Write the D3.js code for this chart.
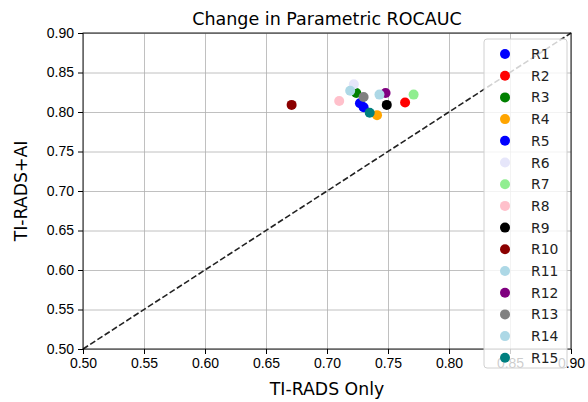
<!DOCTYPE html>
<html>
<head>
<meta charset="utf-8">
<script src="https://cdn.jsdelivr.net/npm/d3@7"></script>
<style>
  body { margin: 0; background: #fff; }
  svg { font-family: "DejaVu Sans", sans-serif; }
</style>
</head>
<body>
<div id="chart"></div>
<script>
const readers = ['R1', 'R2', 'R3', 'R4', 'R5', 'R6', 'R7', 'R8', 'R9', 'R10', 'R11', 'R12', 'R13', 'R14', 'R15'];
const tiradsOnly = [0.727, 0.764, 0.724, 0.741, 0.730, 0.722, 0.771, 0.710, 0.749, 0.671, 0.719, 0.748, 0.730, 0.743, 0.735];
const tiradsAI =   [0.811, 0.812, 0.824, 0.796, 0.806, 0.835, 0.822, 0.814, 0.809, 0.809, 0.827, 0.824, 0.819, 0.822, 0.799];
const pointColors = ['blue', 'red', 'green', 'orange', 'blue', 'lavender', 'lightgreen', 'pink', 'black',
    'darkred', 'lightblue', 'purple', 'gray', 'lightblue', 'teal'];
const ticks = [0.50, 0.55, 0.60, 0.65, 0.70, 0.75, 0.80, 0.85, 0.90];

const W = 588, H = 402;
const margin = { top: 33, right: 17, bottom: 53, left: 83 };
const width = W - margin.left - margin.right;
const height = H - margin.top - margin.bottom;

const svg = d3.select('#chart').append('svg')
    .attr('width', W)
    .attr('height', H);

const g = svg.append('g')
    .attr('transform', `translate(${margin.left},${margin.top})`);

const x = d3.scaleLinear().domain([0.5, 0.9]).range([0, width]);
const y = d3.scaleLinear().domain([0.5, 0.9]).range([height, 0]);

// gridlines
g.append('g')
    .attr('transform', `translate(0,${height})`)
    .call(d3.axisBottom(x).tickValues(ticks).tickSize(-height).tickFormat(''))
    .call(a => a.select('.domain').remove())
    .selectAll('.tick line')
    .attr('stroke', '#b0b0b0')
    .attr('stroke-width', 0.8);

g.append('g')
    .call(d3.axisLeft(y).tickValues(ticks).tickSize(-width).tickFormat(''))
    .call(a => a.select('.domain').remove())
    .selectAll('.tick line')
    .attr('stroke', '#b0b0b0')
    .attr('stroke-width', 0.8);

// points
readers.forEach((r, i) => {
    g.append('circle')
        .attr('cx', x(tiradsOnly[i]))
        .attr('cy', y(tiradsAI[i]))
        .attr('r', 5)
        .attr('fill', pointColors[i]);
});

// diagonal reference line
g.append('line')
    .attr('x1', x(0.5)).attr('y1', y(0.5))
    .attr('x2', x(0.9)).attr('y2', y(0.9))
    .attr('stroke', '#222')
    .attr('stroke-width', 1.6)
    .attr('stroke-dasharray', '6,2.6');

// spines
g.append('rect')
    .attr('width', width)
    .attr('height', height)
    .attr('fill', 'none')
    .attr('stroke', '#000')
    .attr('stroke-width', 0.9);

// axes
const xAxis = g.append('g')
    .attr('transform', `translate(0,${height})`)
    .call(d3.axisBottom(x).tickValues(ticks).tickFormat(d3.format('.2f')).tickSize(5).tickPadding(4));
xAxis.select('.domain').remove();
xAxis.selectAll('text').style('font-size', '14px').attr('fill', '#000');

const yAxis = g.append('g')
    .call(d3.axisLeft(y).tickValues(ticks).tickFormat(d3.format('.2f')).tickSize(5).tickPadding(4));
yAxis.select('.domain').remove();
yAxis.selectAll('text').style('font-size', '14px').attr('fill', '#000');

// legend
const leg = g.append('g')
    .attr('transform', `translate(${484 - margin.left},${39 - margin.top})`);
leg.append('rect')
    .attr('width', 83)
    .attr('height', 329)
    .attr('rx', 3)
    .attr('fill', 'rgba(255,255,255,0.8)')
    .attr('stroke', '#d0d0d0')
    .attr('stroke-width', 1);
readers.forEach((r, i) => {
    const row = leg.append('g').attr('transform', `translate(0,${15 + i * 21.7})`);
    row.append('circle').attr('cx', 21).attr('cy', 0).attr('r', 5).attr('fill', pointColors[i]);
    row.append('text')
        .attr('x', 47)
        .attr('y', 0)
        .attr('dy', '0.36em')
        .style('font-size', '13.9px')
        .attr('fill', '#222')
        .text(r);
});

// title and labels
svg.append('text')
    .attr('x', margin.left + width / 2)
    .attr('y', 25)
    .attr('text-anchor', 'middle')
    .style('font-size', '17.5px')
    .text('Change in Parametric ROCAUC');

svg.append('text')
    .attr('x', margin.left + width / 2)
    .attr('y', 395)
    .attr('text-anchor', 'middle')
    .style('font-size', '17.3px')
    .text('TI-RADS Only');

svg.append('text')
    .attr('transform', `translate(27,${margin.top + height / 2}) rotate(-90)`)
    .attr('text-anchor', 'middle')
    .style('font-size', '17.3px')
    .text('TI-RADS+AI');
</script>
</body>
</html>
